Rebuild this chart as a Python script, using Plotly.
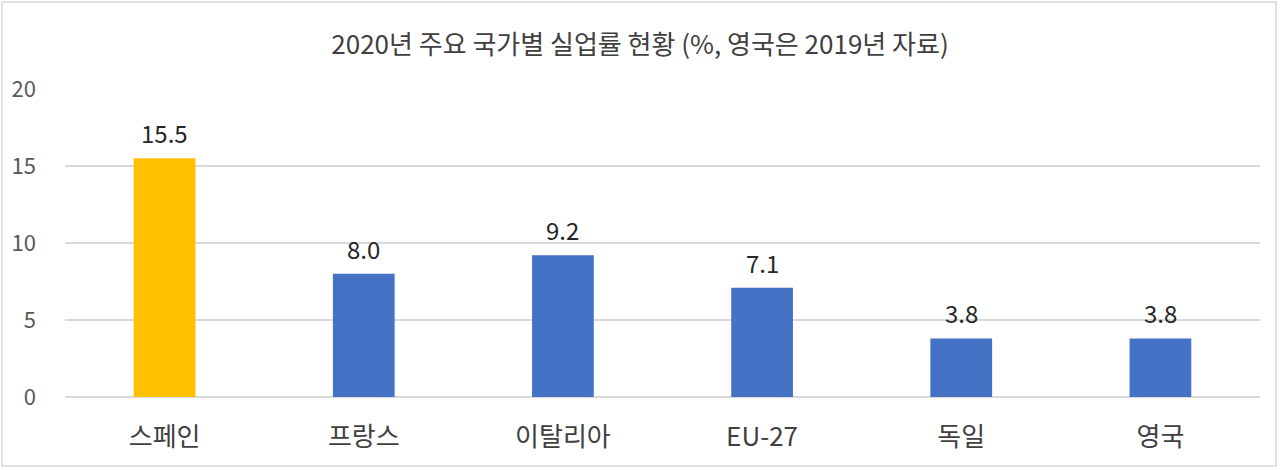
import plotly.graph_objects as go

categories = ["스페인", "프랑스", "이탈리아", "EU-27", "독일", "영국"]
values = [15.5, 8.0, 9.2, 7.1, 3.8, 3.8]
labels = ["15.5", "8.0", "9.2", "7.1", "3.8", "3.8"]
bar_colors = ["#FFC000", "#4472C4", "#4472C4", "#4472C4", "#4472C4", "#4472C4"]
y_ticks = [0, 5, 10, 15, 20]

W, H = 1280, 470
ML, MR, MT, MB = 65, 20, 89, 73
FONT = "Noto Sans CJK KR"

fig = go.Figure(go.Bar(
    x=categories, y=values,
    marker=dict(color=bar_colors, line=dict(width=0)),
    cliponaxis=False,
))

for c, v, t in zip(categories, values, labels):
    fig.add_annotation(x=c, y=v, text=t, showarrow=False, yanchor="bottom",
                       yshift=6,
                       font=dict(family=FONT, size=24, color="#262626"))

pw, ph = W - ML - MR, H - MT - MB
fig.add_shape(type="rect", xref="paper", yref="paper",
              x0=(2 - ML) / pw, x1=(W - 4 - ML) / pw,
              y0=-(H - 4 - MT - ph) / ph, y1=1 + (MT - 2) / ph,
              line=dict(color="#D9D9D9", width=1.5), layer="below")

fig.update_layout(
    width=W, height=H,
    margin=dict(l=ML, r=MR, t=MT, b=MB),
    paper_bgcolor="white", plot_bgcolor="white",
    bargap=0.69,
    showlegend=False,
    font=dict(family=FONT),
    title=dict(text="2020년 주요 국가별 실업률 현황 (%, 영국은 2019년 자료)",
               x=0.5, xanchor="center", y=1 - 45 / H, yanchor="middle",
               font=dict(family=FONT, size=26, color="#404040")),
    xaxis=dict(showgrid=False, showline=False, ticks="",
               ticklabelstandoff=22,
               tickfont=dict(family=FONT, size=26, color="#404040")),
    yaxis=dict(range=[0, 20], tickvals=y_ticks, showgrid=True,
               gridcolor="#D9D9D9", gridwidth=1.5, zeroline=True,
               zerolinecolor="#D9D9D9", zerolinewidth=1.5, showline=False,
               ticks="", ticklabelstandoff=28,
               tickfont=dict(family=FONT, size=22, color="#595959")),
)

fig.write_html("out.html", config={"displayModeBar": False})
with open("out.html", encoding="utf-8") as f:
    html = f.read()
html = html.replace("<body>", '<body style="margin:0">', 1)
with open("out.html", "w", encoding="utf-8") as f:
    f.write(html)
